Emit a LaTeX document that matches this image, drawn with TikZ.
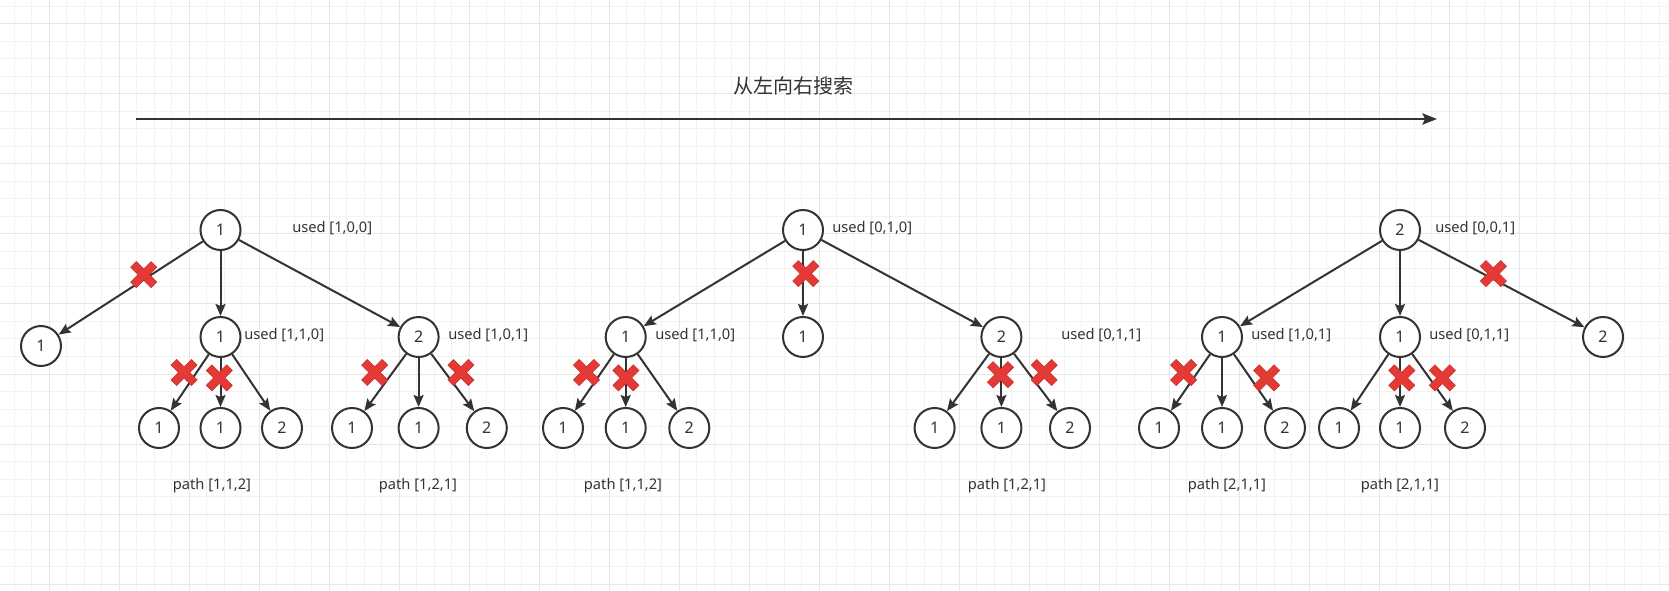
\documentclass[tikz,border=0pt]{standalone}
\usepackage{fontspec}
\setmainfont{Noto Sans}
\newfontfamily\cjk{Noto Sans CJK SC}
\usetikzlibrary{arrows.meta}
\definecolor{linec}{HTML}{333333}
\definecolor{xred}{HTML}{E53935}
\definecolor{gridc}{HTML}{F2F2F2}
\definecolor{gridm}{HTML}{E6E6E6}
\tikzset{
  num/.style={circle, draw=linec, line width=1.5pt, fill=white, minimum size=30pt,
    inner sep=0pt, text=linec, font=\fontsize{12}{14}\selectfont},
  link/.style={draw=linec, line width=1.5pt, -{Stealth[length=9pt, width=7.5pt, inset=1.5pt]}},
  info/.style={text=linec, inner sep=0pt, font=\fontsize{11}{13}\selectfont},
  ban/.pic={
    \filldraw[fill=xred, draw=xred!85!black, line width=0.4pt, rotate=45]
      (-4,14.5) -- (4,14.5) -- (4,4) -- (14.5,4) -- (14.5,-4) -- (4,-4)
      -- (4,-14.5) -- (-4,-14.5) -- (-4,-4) -- (-14.5,-4) -- (-14.5,4) -- (-4,4) -- cycle;
  }
}
\begin{document}
\begin{tikzpicture}[x=0.75pt, y=-0.75pt]
    \useasboundingbox (0,0) rectangle (1669,591);
    \fill[white] (0,0) rectangle (1669,591);
    % Grille
    \foreach \gx in {0,...,95} \draw[gridc, line width=0.75pt] ({14+17.5*\gx},0) -- ({14+17.5*\gx},591);
    \foreach \gy in {0,...,33} \draw[gridc, line width=0.75pt] (0,{6.5+17.5*\gy}) -- (1669,{6.5+17.5*\gy});
    \foreach \gx in {0,...,22} \draw[gridm, line width=0.75pt] ({49+70*\gx},0) -- ({49+70*\gx},591);
    \foreach \gy in {0,...,8} \draw[gridm, line width=0.75pt] (0,{24+70*\gy}) -- (1669,{24+70*\gy});

    % Direction
    \node[text=linec, font=\fontsize{15}{18}\selectfont] (ttl) at (793,86) {\cjk 从左向右搜索};
    \coordinate (go) at (136,119);
    \coordinate (stop) at (1437,119);
    \draw[draw=linec, line width=1.1pt, -{Stealth[length=11pt, width=8.5pt, inset=2pt]}] (go) -- (stop);

    % Arbre 1
    \node[num] (r1) at (220.5,230) {1};
    \node[info, anchor=west] (u1) at (292,228) {used [1,0,0]};
    \node[num] (r1a) at (41,346) {1};
    \node[num] (r1b) at (220.5,337) {1};
    \node[info, anchor=west] (u1b) at (244,335) {used [1,1,0]};
    \node[num] (r1c) at (418.6,337) {2};
    \node[info, anchor=west] (u1c) at (448,335) {used [1,0,1]};
    \node[num] (r1b1) at (159,428) {1};
    \node[num] (r1b2) at (220.5,428) {1};
    \node[num] (r1b3) at (282,428) {2};
    \node[num] (r1c1) at (352,428) {1};
    \node[num] (r1c2) at (418.6,428) {1};
    \node[num] (r1c3) at (486.8,428) {2};
    \node[info] (p1b) at (212,486) {path [1,1,2]};
    \node[info] (p1c) at (418,486) {path [1,2,1]};
    \draw[link] (r1) -- (r1a);
    \draw[link] (r1) -- (r1b);
    \draw[link] (r1) -- (r1c);
    \draw[link] (r1b) -- (r1b1);
    \draw[link] (r1b) -- (r1b2);
    \draw[link] (r1b) -- (r1b3);
    \draw[link] (r1c) -- (r1c1);
    \draw[link] (r1c) -- (r1c2);
    \draw[link] (r1c) -- (r1c3);

    % Arbre 2
    \node[num] (r2) at (803,230) {1};
    \node[info, anchor=west] (u2) at (832,228) {used [0,1,0]};
    \node[num] (r2a) at (625.7,337) {1};
    \node[info, anchor=west] (u2a) at (655,335) {used [1,1,0]};
    \node[num] (r2b) at (803,337) {1};
    \node[num] (r2c) at (1001.4,337) {2};
    \node[info, anchor=west] (u2c) at (1061,335) {used [0,1,1]};
    \node[num] (r2a1) at (563,428) {1};
    \node[num] (r2a2) at (625.7,428) {1};
    \node[num] (r2a3) at (689.3,428) {2};
    \node[num] (r2c1) at (934.6,428) {1};
    \node[num] (r2c2) at (1001.4,428) {1};
    \node[num] (r2c3) at (1070,428) {2};
    \node[info] (p2a) at (623,486) {path [1,1,2]};
    \node[info] (p2c) at (1007,486) {path [1,2,1]};
    \draw[link] (r2) -- (r2a);
    \draw[link] (r2) -- (r2b);
    \draw[link] (r2) -- (r2c);
    \draw[link] (r2a) -- (r2a1);
    \draw[link] (r2a) -- (r2a2);
    \draw[link] (r2a) -- (r2a3);
    \draw[link] (r2c) -- (r2c1);
    \draw[link] (r2c) -- (r2c2);
    \draw[link] (r2c) -- (r2c3);

    % Arbre 3
    \node[num] (r3) at (1400,230) {2};
    \node[info, anchor=west] (u3) at (1435,228) {used [0,0,1]};
    \node[num] (r3a) at (1222,337) {1};
    \node[info, anchor=west] (u3a) at (1251,335) {used [1,0,1]};
    \node[num] (r3b) at (1400,337) {1};
    \node[info, anchor=west] (u3b) at (1429,335) {used [0,1,1]};
    \node[num] (r3c) at (1603,337) {2};
    \node[num] (r3a1) at (1159,428) {1};
    \node[num] (r3a2) at (1222,428) {1};
    \node[num] (r3a3) at (1285,428) {2};
    \node[num] (r3b1) at (1339,428) {1};
    \node[num] (r3b2) at (1400,428) {1};
    \node[num] (r3b3) at (1465,428) {2};
    \node[info] (p3a) at (1227,486) {path [2,1,1]};
    \node[info] (p3b) at (1400,486) {path [2,1,1]};
    \draw[link] (r3) -- (r3a);
    \draw[link] (r3) -- (r3b);
    \draw[link] (r3) -- (r3c);
    \draw[link] (r3a) -- (r3a1);
    \draw[link] (r3a) -- (r3a2);
    \draw[link] (r3a) -- (r3a3);
    \draw[link] (r3b) -- (r3b1);
    \draw[link] (r3b) -- (r3b2);
    \draw[link] (r3b) -- (r3b3);

    % Branches coupees
    \foreach \p in {(143.7,274.6), (184.1,372.5), (219.3,377.9), (374.7,372.5), (460.9,372.5),
                    (805.8,273.6), (586.5,372.5), (625.9,377.9), (1000.5,374.7), (1044.2,372.5),
                    (1493.4,273.6), (1183.6,372.5), (1266.6,377.9), (1401.8,377.9), (1442.3,377.9)}
      \pic at \p {ban};
\end{tikzpicture}
\end{document}
